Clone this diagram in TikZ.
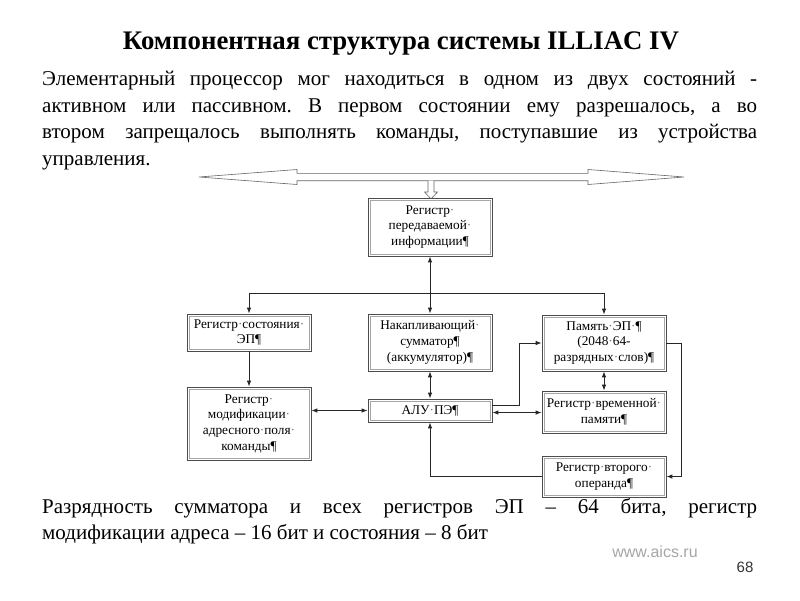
\documentclass[tikz,border=0pt]{standalone}
\usepackage{fontspec}
\setmainfont{Liberation Serif}
\newfontfamily\webfont{Liberation Sans}
\usetikzlibrary{arrows.meta}
\frenchspacing

\newcommand{\gdot}{\textcolor{black!55}{·}}

\tikzset{
  regbox/.style={draw=black!70, line width=0.7pt, fill=white, minimum width=124pt,
    align=center, inner sep=1pt, font=\fontsize{13.3}{15.7}\selectfont},
  conn/.style={line width=0.9pt, draw=black!85, -{Latex[length=6pt,width=4.5pt]}},
  dconn/.style={line width=0.9pt, draw=black!85,
    {Latex[length=6pt,width=4.5pt]}-{Latex[length=6pt,width=4.5pt]}},
  bodytext/.style={anchor=north west, inner sep=0pt, text width=715pt, align=justify,
    font=\fontsize{21}{26.7}\selectfont},
}

\begin{document}
\begin{tikzpicture}[x=1pt,y=-1pt]
	\fill[white] (0,0) rectangle (800,600);
	\useasboundingbox (0,0) rectangle (800,600);

	% title and text
	\node[anchor=base, font=\fontsize{26.8}{32}\selectfont\bfseries] (title) at (401,49)
		{Компонентная структура системы ILLIAC IV};
	\node[bodytext] (intro) at (42,71)
		{Элементарный процессор мог находиться в одном из двух состояний -\linebreak
		активном или пассивном. В первом состоянии ему разрешалось, а во\linebreak
		втором запрещалось выполнять команды, поступавшие из устройства\linebreak
		управления.};
	\node[bodytext] (widths) at (42,498)
		{Разрядность сумматора и всех регистров ЭП – 64 бита, регистр\linebreak
		модификации адреса – 16 бит и состояния – 8 бит};
	\node[anchor=base, text=black!35, font=\webfont\fontsize{16}{18}\selectfont] (site) at (655,557) {www.aics.ru};
	\node[anchor=base, text=black!80, font=\webfont\fontsize{15}{18}\selectfont] (page) at (745,572) {68};

	% common bus
	\draw[black!60, fill=white, line width=0.6pt] (199,177) -- (297,169.5) -- (297,173.3) -- (588,173.3)
		-- (588,169.5) -- (684,177) -- (588,184.5) -- (588,180.7) -- (297,180.7) -- (297,184.5) -- cycle;
	\draw[black!60, fill=white, line width=0.6pt] (428,180.7) -- (428,192) -- (424.5,192) -- (431,199)
		-- (437.5,192) -- (434,192) -- (434,180.7);

	% boxes
	\node[regbox, minimum height=58pt] (info) at (430,227) {Регистр\gdot\\передаваемой\gdot\\информации¶};
	\node[regbox, minimum height=37pt] (state) at (249,332.5) {Регистр\gdot состояния\gdot\\ЭП¶};
	\node[regbox, minimum height=57pt] (acc) at (430,342.5) {Накапливающий\gdot\\сумматор¶\\(аккумулятор)¶};
	\node[regbox, minimum height=56pt] (mem) at (604,343) {Память\gdot ЭП\gdot¶\\(2048\gdot 64-\\разрядных\gdot слов)¶};
	\node[regbox, minimum height=73pt] (mod) at (249,423.5) {Регистр\gdot\\модификации\gdot\\адресного\gdot поля\gdot\\команды¶};
	\node[regbox, minimum height=23pt] (alu) at (430,410.5) {АЛУ\gdot ПЭ¶};
	\node[regbox, minimum height=42pt] (tmp) at (604,412) {Регистр\gdot временной\gdot\\памяти¶};
	\node[regbox, minimum height=41pt] (op2) at (604,476.5) {Регистр\gdot второго\gdot\\операнда¶};
	\foreach \n in {info,state,acc,mem,mod,alu,tmp,op2}
		\draw[black!35, line width=0.5pt] ([shift={(2.5pt,-2.5pt)}]\n.north west) rectangle ([shift={(-2.5pt,2.5pt)}]\n.south east);

	% connections
	\coordinate (bus) at (430,293);
	\draw[conn] (bus) -- (info.south);
	\draw[conn] (bus) -- (acc.north);
	\draw[conn] (bus) -| (state.north);
	\draw[conn] (bus) -| (mem.north);
	\draw[conn] (state) -- (mod);
	\draw[dconn] (acc) -- (alu);
	\draw[dconn] (mem) -- (tmp);
	\draw[dconn] (alu.west -| mod.east) -- (alu.west);
	\draw[dconn] ([yshift=-2pt]alu.east) -- ([yshift=-2pt]alu.east -| tmp.west);
	\draw[conn] ([yshift=5pt]alu.east) -- ++(27,0) |- (mem.west);
	\draw[conn] (mem.east) -- ++(15,0) |- (op2.east);
	\draw[conn] (op2.west) -| (alu.south);
\end{tikzpicture}
\end{document}
